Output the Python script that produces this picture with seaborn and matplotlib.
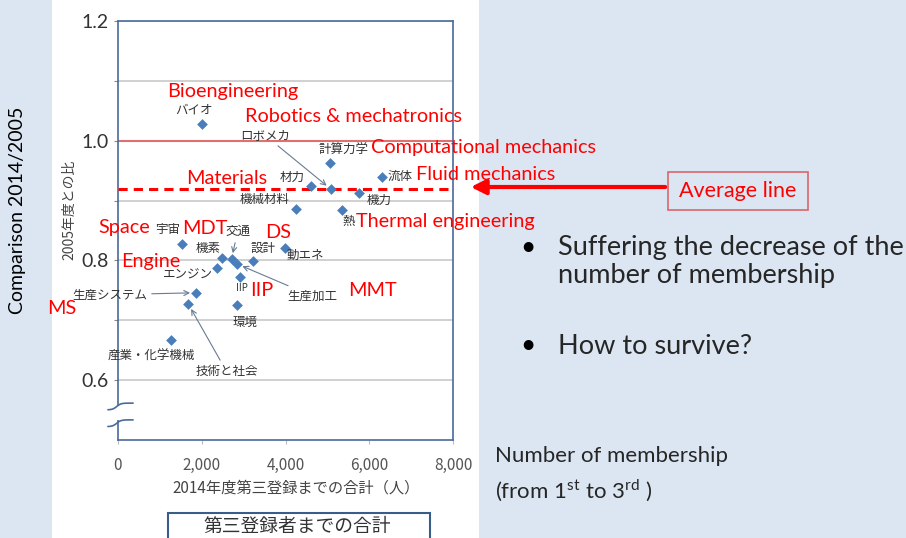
import matplotlib
matplotlib.use('Agg')
import matplotlib.pyplot as plt
import seaborn as sns
import numpy as np
import pandas as pd
from matplotlib.patches import Rectangle

# ---------- data ----------
names_jp = ['バイオ', '計算力学', '流体', '材力', 'ロボメカ', '機力', '機械材料', '熱',
            '宇宙', '動エネ', '機素', '交通', '設計', '生産加工', 'エンジン', 'IIP',
            '生産システム', '技術と社会', '環境', '産業・化学機械']
members = [2000, 5060, 6310, 4600, 5085, 5760, 4250, 5355,
           1520, 3990, 2475, 2713, 3230, 2848, 2355, 2912,
           1853, 1680, 2833, 1265]
ratio = [1.028, 0.963, 0.939, 0.924, 0.919, 0.912, 0.886, 0.884,
         0.828, 0.820, 0.804, 0.803, 0.799, 0.794, 0.788, 0.773,
         0.746, 0.727, 0.725, 0.667]
average = 0.92

en_labels = ['Bioengineering', 'Robotics & mechatronics', 'Computational mechanics',
             'Fluid mechanics', 'Materials', 'Thermal engineering', 'Space', 'MDT',
             'DS', 'Engine', 'IIP', 'MMT', 'MS']

y_major = [0.6, 0.8, 1.0, 1.2]
y_minor = [0.7, 0.9, 1.1]
x_ticks = [0, 2000, 4000, 6000, 8000]

# ---------- layout (figure pixels, top-left origin) ----------
W, H = 906, 538
def fx(x):
    return x / W
def fy(y):
    return 1 - y / H

# offsets (pixels) of the Japanese labels from their points, and whether an arrow is drawn
jp_offsets = {
    'バイオ': (-8, 14, False), '計算力学': (14, 13, False), '流体': (18, 1, False),
    '材力': (-18, 9, False), 'ロボメカ': (-66, 54, True), '機力': (20, -7, False),
    '機械材料': (-31, 9, False), '熱': (6, -11, False), '宇宙': (-14, 14, False),
    '動エネ': (20, -7, False), '機素': (-14, 10, False), '交通': (6, 27, True),
    '設計': (10, 13, False), '生産加工': (75, -32, True), 'エンジン': (-29, -7, False),
    'IIP': (2, -11, False), '生産システム': (-86, -2, True), '技術と社会': (38, -67, True),
    '環境': (8, -17, False), '産業・化学機械': (-20, -16, False),
}
en_pos = [(167, 92), (245, 116), (371, 147), (416, 174), (186, 179), (356, 222),
          (98, 228), (182, 228), (265, 232), (121, 261), (250, 291), (348, 290), (47, 308)]

sns.set_theme(style='white')
plt.rcParams['font.family'] = ['Lato', 'Noto Sans CJK JP', 'DejaVu Sans']
plt.rcParams['mathtext.fontset'] = 'custom'
plt.rcParams['mathtext.rm'] = 'Lato'
JP = ['Noto Sans CJK JP', 'DejaVu Sans']

fig = plt.figure(figsize=(9.06, 5.38), dpi=100)
fig.patch.set_facecolor('#dce6f2')
fig.add_artist(Rectangle((fx(52), 0), fx(479) - fx(52), 1, transform=fig.transFigure,
                         facecolor='white', edgecolor='none', zorder=0))

ax = fig.add_axes([fx(118), fy(440), fx(453) - fx(118), fy(21) - fy(440)])
df = pd.DataFrame({'members': members, 'ratio': ratio, 'name': names_jp})
sns.scatterplot(data=df, x='members', y='ratio', marker='D', s=30, color='#4a7ebb',
                linewidth=0, ax=ax, zorder=5)

ax.set_xlim(0, 8000)
ax.set_ylim(0.5, 1.2)
ax.set_yticks(y_major)
ax.set_yticklabels(['0.6', '0.8', '1.0', '1.2'])
ax.set_yticks(y_minor, minor=True)
ax.set_xticks(x_ticks)
ax.set_xticklabels([f'{v:,}' for v in x_ticks])
ax.grid(axis='y', which='both', color='#c8c8c8', lw=1.2)
ax.set_axisbelow(True)
for s in ax.spines.values():
    s.set_color('#4a6b9b')
    s.set_linewidth(1.2)
ax.tick_params(axis='y', which='both', left=True, length=3, width=0.8, color='#888888',
               labelsize=14, labelcolor='#333333', pad=4)
ax.tick_params(axis='x', bottom=True, length=3, width=0.8, color='#bbbbbb',
               labelsize=11, labelcolor='#555555', pad=9)
for lab in ax.get_xticklabels():
    lab.set_family(JP)

ax.set_xlabel('2014年度第三登録までの合計（人）', fontsize=11, color='#444444', family=JP)
ax.xaxis.set_label_coords(0.531, -0.095)
ax.set_ylabel('2005年度との比', fontsize=10, color='#444444', family=JP)
ax.yaxis.set_label_coords(-0.125, 0.55)

# reference lines
ax.axhline(1.0, color='#e07070', lw=1.5, zorder=2)
ax.axhline(average, color='red', lw=2.2, dashes=(3, 2), zorder=3)

# axis break marks
ax.add_patch(Rectangle((-0.01, 0.048), 0.02, 0.032, transform=ax.transAxes,
                       facecolor='white', edgecolor='none', clip_on=False, zorder=6))
t = np.linspace(0, 1, 30)
for yb in (0.080, 0.040):
    xs = -0.03 + 0.075 * t
    ys = yb + 0.008 * np.tanh(6 * (t - 0.35))
    ax.plot(xs, ys, color='#4a6b9b', lw=1.2, transform=ax.transAxes, clip_on=False, zorder=7)

# Japanese labels
for name, xv, yv in zip(names_jp, members, ratio):
    dx, dy, arrow = jp_offsets[name]
    props = dict(arrowstyle='->', color='#6a7a96', lw=0.8, shrinkA=1, shrinkB=4) if arrow else None
    ax.annotate(name, xy=(xv, yv), xytext=(dx, dy), textcoords='offset pixels',
                ha='center', va='center', fontsize=7 if name == 'IIP' else 9,
                color='#333333', family=JP, arrowprops=props, zorder=8)

# English red labels
for lab, (px, py) in zip(en_labels, en_pos):
    fig.text(fx(px), fy(py), lab, color='red', fontsize=14.3, ha='left', va='center')

# average line pointer
fig.add_artist(Rectangle((fx(668), fy(210)), fx(808) - fx(668), fy(172) - fy(210),
                         transform=fig.transFigure, facecolor='none', edgecolor='#d9666a', lw=1.2))
fig.text(fx(738), fy(191), 'Average line', color='red', fontsize=15.5, ha='center', va='center')
ax.annotate('', xy=(fx(468), fy(187)), xytext=(fx(668), fy(187)), xycoords='figure fraction',
            textcoords='figure fraction',
            arrowprops=dict(arrowstyle='-|>', color='red', lw=3, mutation_scale=22))

# slide text
fig.text(fx(18), fy(210), 'Comparison 2014/2005', rotation=90, fontsize=14,
         ha='center', va='center', color='black')
fig.text(fx(528), fy(247), '•', fontsize=19, ha='center', va='center', color='black')
fig.text(fx(558), fy(248), 'Suffering the decrease of the', fontsize=19.5, ha='left', va='center')
fig.text(fx(558), fy(276), 'number of membership', fontsize=19.5, ha='left', va='center')
fig.text(fx(528), fy(345), '•', fontsize=19, ha='center', va='center', color='black')
fig.text(fx(558), fy(346), 'How to survive?', fontsize=19.5, ha='left', va='center')
fig.text(fx(495), fy(456), 'Number of membership', fontsize=16, ha='left', va='center')
fig.text(fx(495), fy(490), r'(from 1$^{\rm st}$ to 3$^{\rm rd}$ )', fontsize=16, ha='left', va='center')

# bottom caption box
fig.add_artist(Rectangle((fx(168), fy(545)), fx(430) - fx(168), fy(513) - fy(545),
                         transform=fig.transFigure, facecolor='white', edgecolor='#385d8a', lw=1.5))
fig.text(fx(297), fy(526), '第三登録者までの合計', fontsize=13.5, ha='center', va='center',
         color='#333333', family=JP)

fig.savefig('out.png', dpi=100, facecolor=fig.get_facecolor())
